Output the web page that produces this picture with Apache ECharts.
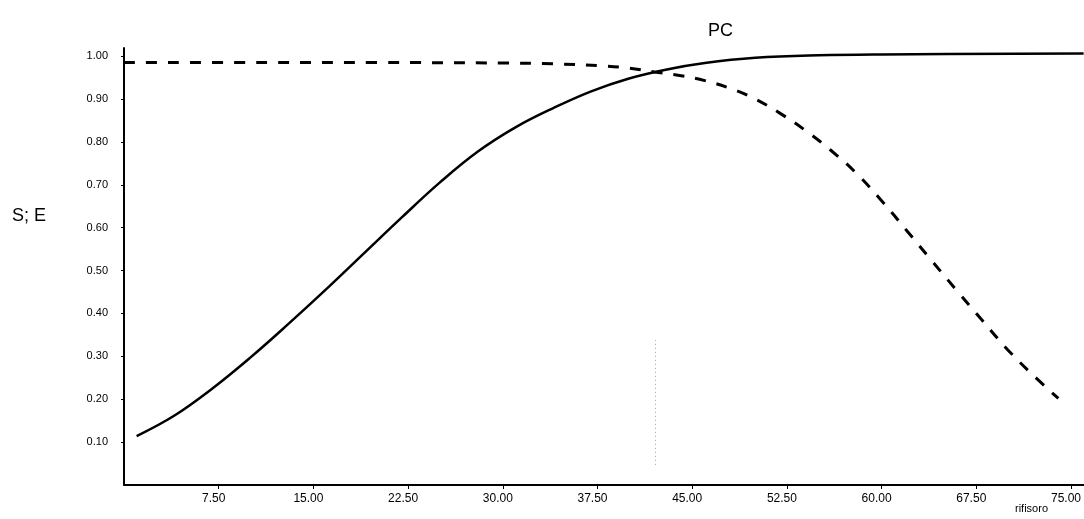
<!DOCTYPE html>
<html>
<head>
<meta charset="utf-8">
<script src="https://cdn.jsdelivr.net/npm/echarts@6/dist/echarts.min.js"></script>
<style>
  html, body { margin: 0; padding: 0; background: #fff; }
  #container { width: 1084px; height: 519px; }
</style>
</head>
<body>
<div id="container"></div>
<script>
// solid curve (sensitivity), x = rifisoro
var solidX = [1, 4, 7, 10, 13, 16, 19, 22, 25, 28, 31, 34, 37, 40, 43, 46, 50, 55, 60, 76];
var solidY = [0.114, 0.162, 0.225, 0.297, 0.375, 0.456, 0.540, 0.624, 0.705, 0.777, 0.834, 0.879, 0.918, 0.948, 0.969, 0.984, 0.996, 1.002, 1.004, 1.006];

// dashed curve (specificity)
var dashX = [0, 10, 20, 30, 34, 37.6, 40, 42, 44, 46, 48, 50, 52, 54, 56, 58, 60, 62, 64, 66, 68, 70, 72, 74];
var dashY = [0.985, 0.985, 0.985, 0.984, 0.982, 0.978, 0.972, 0.963, 0.955, 0.943, 0.925, 0.900, 0.866, 0.826, 0.780, 0.727, 0.663, 0.593, 0.522, 0.452, 0.383, 0.315, 0.256, 0.202];

// faint vertical cut-off marker
var cutX = [42.1, 42.1];
var cutY = [0.047, 0.338];

function pairs(xs, ys) {
    var out = [];
    for (var i = 0; i < xs.length; i++) out.push([xs[i], ys[i]]);
    return out;
}

var font = 'Liberation Sans, Arial, sans-serif';
var myChart = echarts.init(document.getElementById('container'));

var option = {
    animation: false,
    backgroundColor: '#fff',
    title: {
        text: 'PC',
        left: 703,
        top: 17,
        textStyle: { fontFamily: font, fontSize: 18, fontWeight: 'normal', color: '#000' }
    },
    graphic: [
        {
            type: 'text', left: 12, top: 207,
            style: { text: 'S; E', font: '18px ' + font, fill: '#000' }
        },
        {
            type: 'text', left: 1015, top: 503,
            style: { text: 'rifisoro', font: '11px ' + font, fill: '#000' }
        }
    ],
    grid: { left: 124, right: 0, top: 48, bottom: 34 },
    xAxis: {
        type: 'value',
        min: 0,
        max: 76,
        interval: 7.5,
        splitLine: { show: false },
        axisLine: { lineStyle: { color: '#000', width: 2 } },
        axisTick: { show: true, length: 4, lineStyle: { color: '#000' } },
        axisLabel: {
            showMinLabel: false,
            showMaxLabel: false,
            color: '#000',
            fontFamily: font,
            fontSize: 12,
            margin: 8,
            padding: [0, 10, 0, 0],
            formatter: function (v) { return v.toFixed(2); }
        }
    },
    yAxis: {
        type: 'value',
        min: 0,
        max: 1.019,
        interval: 0.1,
        splitLine: { show: false },
        axisLine: { show: true, lineStyle: { color: '#000', width: 2 } },
        axisTick: { show: true, length: 3, lineStyle: { color: '#000' } },
        axisLabel: {
            showMinLabel: false,
            showMaxLabel: false,
            color: '#000',
            fontFamily: font,
            fontSize: 11,
            margin: 16,
            formatter: function (v) { return v.toFixed(2); }
        }
    },
    series: [
        {
            name: 'S',
            type: 'line',
            data: pairs(solidX, solidY),
            smooth: 0.4,
            showSymbol: false,
            lineStyle: { color: '#000', width: 2.5 }
        },
        {
            name: 'E',
            type: 'line',
            data: pairs(dashX, dashY),
            smooth: 0.4,
            showSymbol: false,
            lineStyle: { color: '#000', width: 3, type: [11, 11] }
        },
        {
            name: 'cut',
            type: 'line',
            data: pairs(cutX, cutY),
            showSymbol: false,
            lineStyle: { color: '#999', width: 1, type: [1, 3] }
        }
    ]
};
myChart.setOption(option, true);
</script>
</body>
</html>
